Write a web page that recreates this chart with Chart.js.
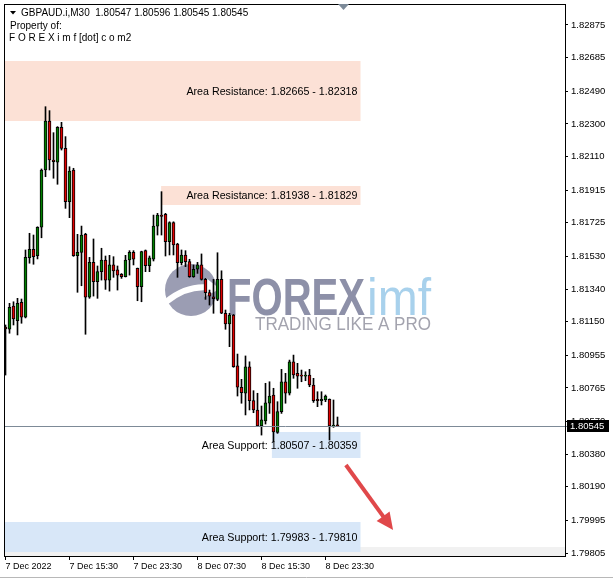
<!DOCTYPE html>
<html>
<head>
<meta charset="utf-8">
<script src="https://cdn.jsdelivr.net/npm/chart.js@4.4.0/dist/chart.umd.min.js"></script>
<style>
  html, body { margin: 0; padding: 0; background: #fff; }
  canvas { display: block; }
</style>
</head>
<body>
<canvas id="chart" width="613" height="579"></canvas>
<script>
// GBPAUD.i M30 bars, first visible bar 7 Dec 2022 07:30
const symbol = 'GBPAUD.i,M30';
const opens = [
  1.81119, 1.81106, 1.81241, 1.81156, 1.81263, 1.81176, 1.81522, 1.81571, 1.81534, 1.81699,
  1.82032, 1.82317, 1.82090, 1.82077, 1.82280, 1.82158, 1.81848, 1.82032, 1.81534, 1.81553,
  1.81658, 1.81292, 1.81495, 1.81383, 1.81441, 1.81509, 1.81392, 1.81480, 1.81451, 1.81426,
  1.81412, 1.81509, 1.81553, 1.81460, 1.81353, 1.81563, 1.81476, 1.81513, 1.81706, 1.81770,
  1.81774, 1.81615, 1.81726, 1.81602, 1.81493, 1.81538, 1.81499, 1.81412, 1.81455, 1.81480,
  1.81396, 1.81319, 1.81295, 1.81280, 1.81396, 1.81199, 1.81137, 1.81189, 1.80894, 1.80769,
  1.80734, 1.80888, 1.80691, 1.80637, 1.80544, 1.80574, 1.80676, 1.80724, 1.80507, 1.80627,
  1.80801, 1.80734, 1.80917, 1.80850, 1.80840, 1.80834, 1.80840, 1.80782, 1.80699, 1.80691,
  1.80695, 1.80699, 1.80544, 1.80547
];
const highs = [
  1.81131, 1.81257, 1.81266, 1.81286, 1.81282, 1.81567, 1.81664, 1.81654, 1.81702, 1.82038,
  1.82400, 1.82377, 1.82249, 1.82284, 1.82309, 1.82226, 1.82051, 1.82042, 1.81658, 1.81706,
  1.81664, 1.81524, 1.81631, 1.81474, 1.81577, 1.81532, 1.81536, 1.81528, 1.81474, 1.81430,
  1.81536, 1.81563, 1.81563, 1.81462, 1.81560, 1.81567, 1.81532, 1.81770, 1.81780, 1.81906,
  1.81780, 1.81731, 1.81731, 1.81606, 1.81567, 1.81563, 1.81513, 1.81480, 1.81495, 1.81544,
  1.81402, 1.81334, 1.81396, 1.81551, 1.81446, 1.81218, 1.81199, 1.81192, 1.80962, 1.80815,
  1.80951, 1.80917, 1.80749, 1.80734, 1.80660, 1.80792, 1.80801, 1.80763, 1.80685, 1.80873,
  1.80850, 1.80927, 1.80956, 1.80908, 1.80869, 1.80859, 1.80873, 1.80821, 1.80743, 1.80743,
  1.80724, 1.80701, 1.80695, 1.80596
];
const lows = [
  1.80840, 1.81083, 1.81131, 1.81073, 1.81141, 1.81172, 1.81490, 1.81484, 1.81515, 1.81638,
  1.81993, 1.82032, 1.81984, 1.81949, 1.82148, 1.81809, 1.81755, 1.81530, 1.81321, 1.81359,
  1.81077, 1.81286, 1.81299, 1.81286, 1.81392, 1.81338, 1.81328, 1.81408, 1.81334, 1.81402,
  1.81410, 1.81421, 1.81480, 1.81272, 1.81266, 1.81441, 1.81441, 1.81503, 1.81654, 1.81654,
  1.81532, 1.81538, 1.81538, 1.81408, 1.81480, 1.81470, 1.81408, 1.81408, 1.81431, 1.81392,
  1.81280, 1.81247, 1.81199, 1.81272, 1.81197, 1.81106, 1.81005, 1.80885, 1.80718, 1.80676,
  1.80608, 1.80637, 1.80621, 1.80540, 1.80491, 1.80555, 1.80617, 1.80452, 1.80501, 1.80617,
  1.80676, 1.80724, 1.80821, 1.80763, 1.80801, 1.80807, 1.80772, 1.80681, 1.80656, 1.80666,
  1.80685, 1.80462, 1.80536, 1.80545
];
const closes = [
  1.81108, 1.81234, 1.81166, 1.81257, 1.81176, 1.81524, 1.81571, 1.81528, 1.81699, 1.82032,
  1.82317, 1.82090, 1.82081, 1.82280, 1.82158, 1.81848, 1.82026, 1.81534, 1.81553, 1.81654,
  1.81292, 1.81495, 1.81383, 1.81441, 1.81509, 1.81392, 1.81480, 1.81446, 1.81421, 1.81412,
  1.81509, 1.81553, 1.81513, 1.81353, 1.81557, 1.81476, 1.81522, 1.81706, 1.81770, 1.81762,
  1.81615, 1.81726, 1.81596, 1.81493, 1.81538, 1.81499, 1.81412, 1.81455, 1.81480, 1.81396,
  1.81319, 1.81299, 1.81284, 1.81396, 1.81199, 1.81137, 1.81189, 1.80888, 1.80769, 1.80737,
  1.80888, 1.80691, 1.80637, 1.80544, 1.80579, 1.80679, 1.80718, 1.80509, 1.80627, 1.80801,
  1.80734, 1.80917, 1.80840, 1.80834, 1.80834, 1.80840, 1.80782, 1.80691, 1.80691, 1.80699,
  1.80718, 1.80544, 1.80547, 1.80545
];

// time axis labels, one every 16 bars (8 hours)
const tickBars = [0, 16, 32, 48, 64, 80];
const tickLabels = ['7 Dec 2022', '7 Dec 15:30', '7 Dec 23:30', '8 Dec 07:30', '8 Dec 15:30', '8 Dec 23:30'];
const priceTicks = [1.82875, 1.82685, 1.82490, 1.82300, 1.82110, 1.81915, 1.81725, 1.81530, 1.81340,
  1.81150, 1.80955, 1.80765, 1.80570, 1.80380, 1.80190, 1.79995, 1.79805];

// drawn zones (price ranges) and where they start on the time axis (null = left edge)
const zoneNames = ['Area Resistance', 'Area Resistance', 'Area Support', 'Area Support'];
const zoneTop = [1.82665, 1.81938, 1.80507, 1.79983];
const zoneBottom = [1.82318, 1.81829, 1.80359, 1.79810];
const zoneFrom = [null, 38.9, 66.6, null];
const zoneTo = 88.75;
const arrowFrom = [85.1, 1.80317];
const arrowTo = [96.9, 1.79939];

const FONT = "'Liberation Sans', Arial, sans-serif";
const UP = '#008000', DOWN = '#e00000';

function drawWatermark(ctx) {
  ctx.save();
  // round badge
  ctx.fillStyle = '#9b9db3';
  ctx.beginPath();
  ctx.arc(191, 290, 26, 0, Math.PI * 2);
  ctx.fill();
  ctx.strokeStyle = '#fff';
  ctx.lineWidth = 6;
  ctx.beginPath();
  ctx.moveTo(166, 302);
  ctx.quadraticCurveTo(188, 284, 212, 288);
  ctx.stroke();
  ctx.fillStyle = '#fff';
  ctx.beginPath();
  ctx.moveTo(206, 278); ctx.lineTo(220, 289); ctx.lineTo(204, 297);
  ctx.closePath();
  ctx.fill();

  ctx.textAlign = 'left';
  ctx.textBaseline = 'alphabetic';
  const word = (txt, font, color, x, base, width) => {
    ctx.font = font;
    ctx.fillStyle = color;
    const w = ctx.measureText(txt).width;
    ctx.save();
    ctx.translate(x, base);
    ctx.scale(width / w, 1);
    ctx.fillText(txt, 0, 0);
    ctx.restore();
  };
  word('FOREX', 'bold 52px ' + FONT, '#8d90a8', 227, 315, 138);
  word('imf', '52px ' + FONT, '#a8d1ec', 367, 315, 64);
  word('TRADING LIKE A PRO', '18px ' + FONT, '#a3a3ae', 255, 330, 176);
  ctx.restore();
}

const overlay = {
  id: 'overlay',
  beforeDatasetsDraw(chart) {
    const { ctx, chartArea: a, scales: { x, y } } = chart;
    ctx.save();
    ctx.beginPath();
    ctx.rect(a.left, a.top, a.right - a.left, a.bottom - a.top);
    ctx.clip();
    ctx.fillStyle = '#f1f1f1';
    ctx.fillRect(a.left, a.bottom - 9, a.right - a.left, 9);
    drawWatermark(ctx);
    zoneTop.forEach((top, i) => {
      const x0 = zoneFrom[i] === null ? a.left : x.getPixelForValue(zoneFrom[i]);
      const x1 = x.getPixelForValue(zoneTo);
      const y0 = Math.round(y.getPixelForValue(top));
      const y1 = Math.round(y.getPixelForValue(zoneBottom[i]));
      ctx.fillStyle = zoneNames[i].includes('Resistance') ? '#fce1d6' : '#d8e7f8';
      ctx.fillRect(x0, y0, x1 - x0, y1 - y0);
      ctx.fillStyle = '#000';
      ctx.font = '10.7px ' + FONT;
      ctx.textAlign = 'right';
      ctx.textBaseline = 'middle';
      ctx.fillText(zoneNames[i] + ': ' + top.toFixed(5) + ' - ' + zoneBottom[i].toFixed(5), x1 - 3, (y0 + y1) / 2 + 1);
    });
    ctx.restore();
  },
  afterDatasetsDraw(chart) {
    const { ctx, chartArea: a, scales: { x, y } } = chart;
    ctx.save();
    // bid line
    const last = closes[closes.length - 1];
    const yp = Math.round(y.getPixelForValue(last)) + 0.5;
    ctx.strokeStyle = '#7d8a97';
    ctx.lineWidth = 1;
    ctx.beginPath();
    ctx.moveTo(a.left, yp);
    ctx.lineTo(a.right + 2, yp);
    ctx.stroke();

    // red arrow
    const ax0 = x.getPixelForValue(arrowFrom[0]), ay0 = y.getPixelForValue(arrowFrom[1]);
    const ax1 = x.getPixelForValue(arrowTo[0]), ay1 = y.getPixelForValue(arrowTo[1]);
    const ang = Math.atan2(ay1 - ay0, ax1 - ax0);
    const hl = 17, hw = 8;
    const bx = ax1 - hl * Math.cos(ang), by = ay1 - hl * Math.sin(ang);
    ctx.strokeStyle = '#e0484a';
    ctx.fillStyle = '#e0484a';
    ctx.lineWidth = 4;
    ctx.beginPath();
    ctx.moveTo(ax0, ay0);
    ctx.lineTo(bx + 2 * Math.cos(ang), by + 2 * Math.sin(ang));
    ctx.stroke();
    ctx.beginPath();
    ctx.moveTo(ax1, ay1);
    ctx.lineTo(bx + hw * Math.sin(ang), by - hw * Math.cos(ang));
    ctx.lineTo(bx - hw * Math.sin(ang), by + hw * Math.cos(ang));
    ctx.closePath();
    ctx.fill();
    ctx.restore();
  },
  afterDraw(chart) {
    const { ctx, chartArea: a, scales: { y } } = chart;
    ctx.save();
    // frame
    ctx.strokeStyle = '#000';
    ctx.lineWidth = 1;
    ctx.strokeRect(a.left + 0.5, a.top + 0.5, a.right - a.left, a.bottom - a.top);
    ctx.strokeStyle = '#b8b8b8';
    ctx.beginPath();
    ctx.moveTo(0, 577.5); ctx.lineTo(613, 577.5);
    ctx.stroke();

    // price tag
    const last = closes[closes.length - 1];
    const yp = Math.round(y.getPixelForValue(last));
    ctx.fillStyle = '#000';
    ctx.fillRect(a.right + 2, yp - 6, 42, 12);
    ctx.fillStyle = '#fff';
    ctx.font = '9.5px ' + FONT;
    ctx.textAlign = 'left';
    ctx.textBaseline = 'middle';
    ctx.fillText(last.toFixed(5), a.right + 5, yp + 0.5);

    // shift marker
    ctx.fillStyle = '#7c8a99';
    ctx.beginPath();
    ctx.moveTo(338, 4); ctx.lineTo(349, 4); ctx.lineTo(343.5, 10);
    ctx.closePath();
    ctx.fill();

    // header
    const n = closes.length - 1;
    ctx.fillStyle = '#000';
    ctx.beginPath();
    ctx.moveTo(10, 11); ctx.lineTo(16, 11); ctx.lineTo(13, 14.5);
    ctx.closePath();
    ctx.fill();
    ctx.font = '10px ' + FONT;
    ctx.textBaseline = 'alphabetic';
    ctx.fillText(symbol + '  ' + [opens[n], highs[n], lows[n], closes[n]].map(v => v.toFixed(5)).join(' '), 21, 16);
    ctx.fillText('Property of:', 10, 29);
    ctx.fillText('F O R E X i m f [dot] c o m2', 9, 41);
    ctx.restore();
  }
};

const bodies = opens.map((o, i) => ({ x: i, y: [o, closes[i]] }));
const wicks = lows.map((l, i) => ({ x: i, y: [l, highs[i]] }));

new Chart(document.getElementById('chart'), {
  type: 'bar',
  data: {
    datasets: [
      {
        label: 'body',
        data: bodies,
        grouped: false,
        barThickness: 3,
        minBarLength: 1,
        borderWidth: 1,
        borderSkipped: false,
        borderColor: '#000',
        backgroundColor: opens.map((o, i) => closes[i] >= o ? UP : DOWN)
      },
      {
        label: 'wick',
        data: wicks,
        grouped: false,
        barThickness: 1,
        borderWidth: 0,
        backgroundColor: '#000'
      }
    ]
  },
  options: {
    responsive: false,
    animation: false,
    devicePixelRatio: 1,
    events: [],
    layout: { padding: { left: 4, top: 4, right: 0, bottom: 0 } },
    plugins: { legend: { display: false }, tooltip: { enabled: false } },
    scales: {
      x: {
        type: 'linear',
        min: -0.375,
        max: 139.875,
        offset: false,
        afterBuildTicks: s => { s.ticks = tickBars.map(v => ({ value: v })); },
        afterFit: s => { s.height = 23; s.paddingLeft = 0; s.paddingRight = 0; },
        border: { display: false },
        grid: { offset: false, drawOnChartArea: false, drawTicks: true, tickLength: 4, color: '#000' },
        ticks: {
          align: 'start', maxRotation: 0, autoSkip: false, padding: 1, color: '#000',
          font: { family: FONT, size: 9 },
          callback: v => tickLabels[tickBars.indexOf(v)]
        }
      },
      y: {
        type: 'linear',
        position: 'right',
        min: 1.79788,
        max: 1.82997,
        afterBuildTicks: s => { s.ticks = priceTicks.map(v => ({ value: v })); },
        afterFit: s => { s.width = 48; s.paddingTop = 0; s.paddingBottom = 0; },
        border: { display: false },
        grid: { drawOnChartArea: false, drawTicks: true, tickLength: 3, color: '#000' },
        ticks: {
          autoSkip: false, padding: 3, color: '#000',
          font: { family: FONT, size: 9.5 },
          callback: v => v.toFixed(5)
        }
      }
    }
  },
  plugins: [overlay]
});
</script>
</body>
</html>
